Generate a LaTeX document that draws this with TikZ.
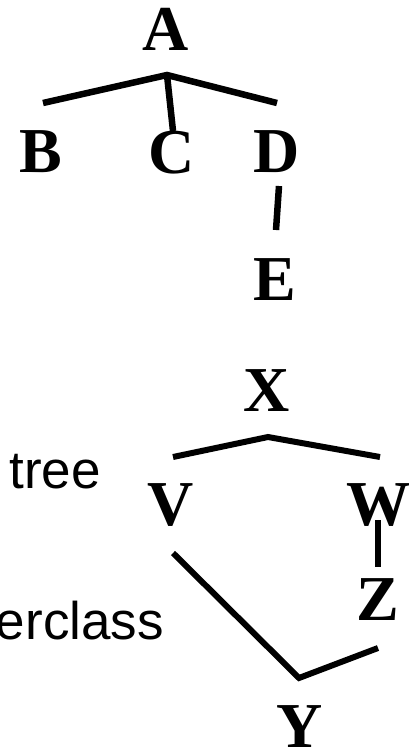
\documentclass[tikz,border=0pt]{standalone}
\usepackage{fontspec}
\setmainfont{Liberation Serif}
\setsansfont{Liberation Sans}

\begin{document}
\begin{tikzpicture}[%
        x = 1pt, y = -1pt,
        letter/.style = {%
            inner sep = 0pt,
            font = \fontsize{64}{64}\selectfont\bfseries
        },
        caption/.style = {%
            inner sep = 0pt,
            anchor = base east,
            font = \fontsize{53}{53}\selectfont\sffamily
        },
        branch/.style = {%
            line width = 6.5pt,
            miter limit = 20
        }
    ]

        \useasboundingbox (0, 0) rectangle (417, 750);
        \clip (0, 0) rectangle (417, 750);

        % Letters of the first tree.
        \node[letter] (A) at (166, 29) {A};
        \node[letter] (B) at (41, 152) {B};
        \node[letter] (C) at (172, 153) {C};
        \node[letter] (D) at (277, 152) {D};
        \node[letter] (E) at (275, 280) {E};

        % Letters of the second graph.
        \node[letter] (X) at (267, 391) {X};
        \node[letter] (V) at (171, 505) {V};
        \node[letter] (W) at (378, 505) {W};
        \node[letter] (Z) at (378, 600) {Z};
        \node[letter] (Y) at (300, 727) {Y};

        % Texts cut off at the left edge.
        \node[caption] (tree) at (101, 488) {tree};
        \node[caption] (super) at (164, 639) {erclass};

        % Ends of the branches.
        \coordinate (ja) at (167, 75);
        \coordinate (jb) at (43, 103);
        \coordinate (jc) at (173, 131);
        \coordinate (jd) at (277, 103);
        \coordinate (jd2) at (279, 186);
        \coordinate (je) at (276, 230);
        \coordinate (jx) at (268, 437);
        \coordinate (jv) at (173, 457);
        \coordinate (jw) at (380, 457);
        \coordinate (jw2) at (378, 520);
        \coordinate (jz) at (378, 567);
        \coordinate (jv2) at (173, 553);
        \coordinate (jy) at (299, 678);
        \coordinate (jz2) at (378, 648);

        % Branches of the first tree.
        \draw[branch] (jb) -- (ja) -- (jd);
        \draw[branch] (ja) -- (jc);
        \draw[branch] (jd2) -- (je);

        % Branches of the second graph.
        \draw[branch, line width = 6pt] (jv) -- (jx) -- (jw);
        \draw[branch, line width = 6pt] (jw2) -- (jz);
        \draw[branch, line width = 6pt] (jv2) -- (jy) -- (jz2);
    \end{tikzpicture}
\end{document}
